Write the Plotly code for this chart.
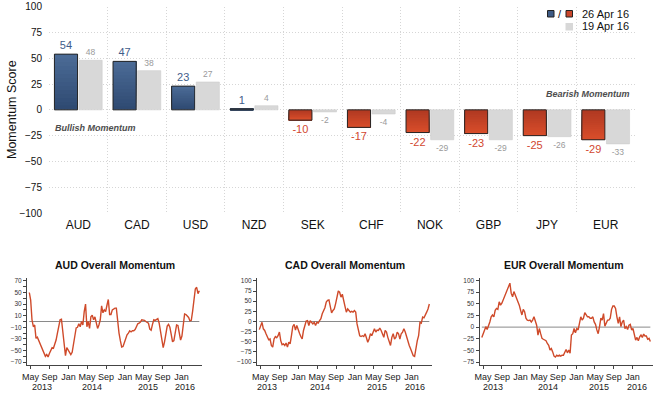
import plotly.graph_objects as go
import pandas as pd

W, H = 658, 399

# ---------------- data ----------------
currencies = ["AUD", "CAD", "USD", "NZD", "SEK", "CHF", "NOK", "GBP", "JPY", "EUR"]
score_26apr = [54, 47, 23, 1, -10, -17, -22, -23, -25, -29]
score_19apr = [48, 38, 27, 4, -2, -4, -29, -29, -26, -33]
y_ticks_main = [100, 75, 50, 25, 0, -25, -50, -75, -100]

aud_momentum = [50, 37, 3, -9, -6, -29, -27, -32, -37, -42, -49, -55, -60, -57, -61, -55,
                -48, -45, -46, -39, -32, -20, -4, 3, 4, -14, -40, -59, -45, -50, -53, -57,
                -53, -42, -25, -11, -10, -4, -9, 0, -6, 17, 30, -9, 0, -12, 8, 11,
                3, 8, -6, -12, -6, 3, 27, 15, 20, 17, 28, 38, 12, 12, 20, 22,
                23, 23, 0, -20, -33, -44, -43, -35, -27, -23, -20, -16, -18, -16, -16, -14,
                -9, -4, -3, -1, 3, 3, 2, 0, -2, -3, -13, -15, -5, 3, 2, 4,
                5, -3, -18, -36, -45, -35, -19, -8, -5, -10, -22, -35, -33, -18, -6, -7,
                -20, -32, -25, -3, 13, 12, 9, 7, 1, 2, 18, 43, 56, 59, 48, 53]

cad_momentum = [-20, -12, -2, -18, -22, -30, -40, -45, -43, -59, -63, -43, -37, -40, -35, -26,
                -47, -57, -55, -59, -53, -63, -51, -55, -35, -12, -7, -21, -10, -22, -29, -37,
                -43, -22, -10, 1, 2, -10, 2, -2, -6, -2, -10, -2, -4, 2, 7, 19,
                26, 34, 48, 52, 53, 40, 21, 27, 31, 44, 56, 75, 72, 60, 67, 48,
                37, 23, 31, 27, 23, 25, 23, 27, 23, -6, -22, -35, -37, -35, -37, -30,
                -40, -51, -43, -30, -35, -26, -18, -26, -21, -22, -16, -22, -30, -39, -22, -26,
                -39, -47, -59, -39, -30, -43, -39, -26, -30, -43, -30, -26, -18, -26, -39, -47,
                -59, -67, -76, -84, -86, -63, -47, -35, -2, -4, 11, 9, 15, 23, 31, 43]

eur_momentum = [-22, -14, -3, 1, -5, 2, 11, 22, 26, 22, 36, 40, 38, 54, 47, 51,
                58, 65, 72, 79, 83, 94, 72, 65, 76, 69, 61, 58, 47, 36, 26, 38,
                33, 19, 15, 14, 15, 11, 15, 22, 15, 4, -17, -3, -14, -24, -26, -28,
                -29, -35, -39, -49, -46, -53, -62, -64, -60, -62, -60, -62, -60, -60, -53, -48,
                -55, -49, -56, -17, -14, -3, -12, -3, -6, 9, 22, 15, 19, 31, 26, 22,
                22, 19, 19, 22, 11, 6, -6, -14, 1, 19, 15, 29, 2, 11, 15, 15,
                19, 38, 45, 45, 40, 22, 8, 22, 1, 11, 15, -3, 1, -5, 4, 6,
                -6, -3, -17, -28, -22, -29, -21, -17, -22, -15, -19, -19, -26, -24, -31]

series_start, series_end = "2013-04-23", "2016-04-26"
month_tick_dates = ["2013-05-01", "2013-09-01", "2014-01-01", "2014-05-01", "2014-09-01",
                    "2015-01-01", "2015-05-01", "2015-09-01", "2016-01-01"]
month_tick_text = ["May", "Sep", "Jan", "May", "Sep", "Jan", "May", "Sep", "Jan"]
year_labels = ["2013", "2014", "2015", "2016"]

aud_yticks = [70, 50, 30, 10, -10, -30, -50, -70]
cad_yticks = [100, 75, 50, 25, 0, -25, -50, -75, -100]
eur_yticks = [100, 75, 50, 25, 0, -25, -50, -75]

# ---------------- styles ----------------
FONT = "Liberation Sans, Arial, Helvetica, sans-serif"
BLUE = "#3e5b85"
RED = "#c9462b"
BLUE_BASE, BLUE_END = (0x2e, 0x49, 0x71), (0x4c, 0x6c, 0x97)   # dark at zero -> light at end
RED_BASE, RED_END = (0xae, 0x38, 0x21), (0xda, 0x4e, 0x2b)
GRAY = "#d8d8d8"
BLUE_TXT = "#3f5d8a"
RED_TXT = "#d2472f"
LINE_RED = "#cf4a2a"
GRID = "#d6d6d6"
DOT = "1px,2px"
N_SLICES = 14


def px_x(p):
    return p / W


def px_y(p):
    return 1 - p / H


def mix(c0, c1, t):
    return "rgb(%d,%d,%d)" % tuple(round(a + (b - a) * t) for a, b in zip(c0, c1))


fig = go.Figure()

# gradient-filled current bars: overlapping layers, each from step j out to the bar's end
for j in range(N_SLICES):
    t = (j + 0.5) / N_SLICES
    cols = [mix(BLUE_BASE, BLUE_END, t) if v >= 0 else mix(RED_BASE, RED_END, t)
            for v in score_26apr]
    fig.add_trace(go.Bar(
        x=currencies, y=[v * (N_SLICES - j) / N_SLICES for v in score_26apr],
        base=[v * j / N_SLICES for v in score_26apr],
        offsetgroup="cur", marker=dict(color=cols, line=dict(width=0)),
        xaxis="x", yaxis="y", showlegend=False, hoverinfo="skip",
    ))

txt_colors = [BLUE_TXT if v >= 0 else RED_TXT for v in score_26apr]
fig.add_trace(go.Bar(
    x=currencies, y=score_26apr, name="26 Apr 16", offsetgroup="cur",
    marker=dict(color="rgba(0,0,0,0)", line=dict(color="#262626", width=1)),
    text=[str(v) for v in score_26apr], textposition="outside",
    textfont=dict(color=txt_colors, size=11, family=FONT),
    cliponaxis=False, xaxis="x", yaxis="y", showlegend=False,
))
fig.add_trace(go.Bar(
    x=currencies, y=score_19apr, name="19 Apr 16", offsetgroup="prev",
    marker=dict(color=GRAY, line=dict(color="#cdcdcd", width=0.6)),
    text=[str(v) for v in score_19apr], textposition="outside",
    textfont=dict(color="#9a9a9a", size=8.5, family=FONT),
    cliponaxis=False, xaxis="x", yaxis="y", showlegend=False,
))

# ---------------- line charts ----------------
panels = [
    ("AUD Overall Momentum", aud_momentum, "2", aud_yticks, [-75, 75], (27.0, 201.5), 115),
    ("CAD Overall Momentum", cad_momentum, "3", cad_yticks, [-107, 107], (257.0, 431.5), 345),
    ("EUR Overall Momentum", eur_momentum, "4", eur_yticks, [-81, 105], (479.5, 652.5), 564),
]
year_px = {
    "2": [41.7, 91.7, 148, 185],
    "3": [266.7, 320, 376.7, 415],
    "4": [493.3, 548.3, 599.3, 637.3],
}

annotations = []
shapes = []
layout_axes = {}

for title, vals, k, yt, yr, (x0, x1), tcx in panels:
    dates = pd.date_range(series_start, series_end, periods=len(vals))
    fig.add_trace(go.Scatter(
        x=dates, y=vals, mode="lines", line=dict(color=LINE_RED, width=1.4),
        xaxis="x" + k, yaxis="y" + k, showlegend=False, hoverinfo="x+y",
    ))
    shapes.append(dict(type="line", xref="x" + k, yref="y" + k,
                       x0=dates[0], x1=dates[-1], y0=0, y1=0,
                       line=dict(color="#8a8a8a", width=1), layer="below"))
    layout_axes["xaxis" + k] = dict(
        domain=[px_x(x0), px_x(x1)], anchor="y" + k, type="date",
        range=["2013-04-08", "2016-05-10"], automargin=False, tickangle=0,
        tickvals=month_tick_dates, ticktext=month_tick_text,
        showline=True, linecolor="#444", linewidth=1,
        ticks="outside", ticklen=3, tickcolor="#444",
        tickfont=dict(size=9, color="#222", family=FONT),
        showgrid=False, zeroline=False,
    )
    yax = dict(
        domain=[px_y(365), px_y(278)], anchor="x" + k, range=yr, automargin=False,
        tickvals=yt, showline=True, linecolor="#444", linewidth=1,
        ticks="outside", ticklen=3, tickcolor="#444",
        tickfont=dict(size=6.5, color="#333", family=FONT),
        showgrid=False, zeroline=False,
    )
    if k == "2":
        yax["minor"] = dict(tickvals=[60, 40, 20, 0, -20, -40, -60], ticks="outside",
                            ticklen=3, tickcolor="#444")
    layout_axes["yaxis" + k] = yax
    annotations.append(dict(text="<b>" + title + "</b>", xref="paper", yref="paper",
                            x=px_x(tcx), y=px_y(265), xanchor="center", yanchor="middle",
                            showarrow=False, font=dict(size=10.5, color="#111", family=FONT)))
    for lbl, xp in zip(year_labels, year_px[k]):
        annotations.append(dict(text=lbl, xref="paper", yref="paper",
                                x=px_x(xp), y=px_y(387), xanchor="center", yanchor="middle",
                                showarrow=False, font=dict(size=9, color="#222", family=FONT)))

# ---------------- main chart annotations ----------------
annotations += [
    dict(text="Momentum Score", textangle=-90, xref="paper", yref="paper",
         x=px_x(12), y=px_y(110), xanchor="center", yanchor="middle", showarrow=False,
         font=dict(size=12.5, color="#111", family=FONT)),
    dict(text="<b><i>Bullish Momentum</i></b>", xref="paper", yref="paper",
         x=px_x(53), y=px_y(128), xanchor="left", yanchor="middle", showarrow=False,
         font=dict(size=9, color="#4d4d4d", family=FONT)),
    dict(text="<b><i>Bearish Momentum</i></b>", xref="paper", yref="paper",
         x=px_x(632), y=px_y(94), xanchor="right", yanchor="middle", showarrow=False,
         font=dict(size=9, color="#4d4d4d", family=FONT)),
    dict(text="/", xref="paper", yref="paper",
         x=px_x(560), y=px_y(13.5), xanchor="center", yanchor="middle", showarrow=False,
         font=dict(size=11, color="#111", family=FONT)),
    dict(text="26 Apr 16", xref="paper", yref="paper",
         x=px_x(580), y=px_y(13.5), xanchor="left", yanchor="middle", showarrow=False,
         font=dict(size=11, color="#111", family=FONT)),
    dict(text="19 Apr 16", xref="paper", yref="paper",
         x=px_x(580), y=px_y(26.5), xanchor="left", yanchor="middle", showarrow=False,
         font=dict(size=11, color="#111", family=FONT)),
]
shapes += [
    dict(type="rect", xref="paper", yref="paper", x0=px_x(547.5), x1=px_x(554),
         y0=px_y(17), y1=px_y(10.5), fillcolor=BLUE, line=dict(color="#222", width=1)),
    dict(type="rect", xref="paper", yref="paper", x0=px_x(566), x1=px_x(572.5),
         y0=px_y(17), y1=px_y(10.5), fillcolor=RED, line=dict(color="#222", width=1)),
    dict(type="rect", xref="paper", yref="paper", x0=px_x(565.5), x1=px_x(573),
         y0=px_y(30.5), y1=px_y(23), fillcolor=GRAY, line=dict(width=0)),
]

fig.update_layout(
    width=W, height=H,
    margin=dict(l=0, r=0, t=0, b=0, autoexpand=False),
    paper_bgcolor="white", plot_bgcolor="white",
    font=dict(family=FONT, color="#111"),
    barmode="group", bargap=0.16, bargroupgap=0.06,
    xaxis=dict(domain=[px_x(49), px_x(635)], anchor="y", type="category",
               range=[-0.5, 9.5], tickson="boundaries", ticks="", automargin=False,
               showgrid=True, gridcolor=GRID, griddash=DOT, gridwidth=1,
               tickfont=dict(size=12, color="#111", family=FONT),
               ticklabelstandoff=3, showline=False, zeroline=False),
    yaxis=dict(domain=[px_y(213), px_y(6.7)], anchor="x", range=[-100, 100],
               automargin=False,
               tickvals=y_ticks_main, showgrid=True, gridcolor=GRID, griddash=DOT,
               gridwidth=1, zeroline=False, ticks="",
               tickfont=dict(size=10, color="#111", family=FONT),
               ticklabelstandoff=6, showline=False),
    annotations=annotations,
    shapes=shapes,
    **layout_axes,
)

fig.write_html("out.html", config={"displayModeBar": False},
               post_script="document.body.style.margin='0px';document.body.style.padding='0px';")
